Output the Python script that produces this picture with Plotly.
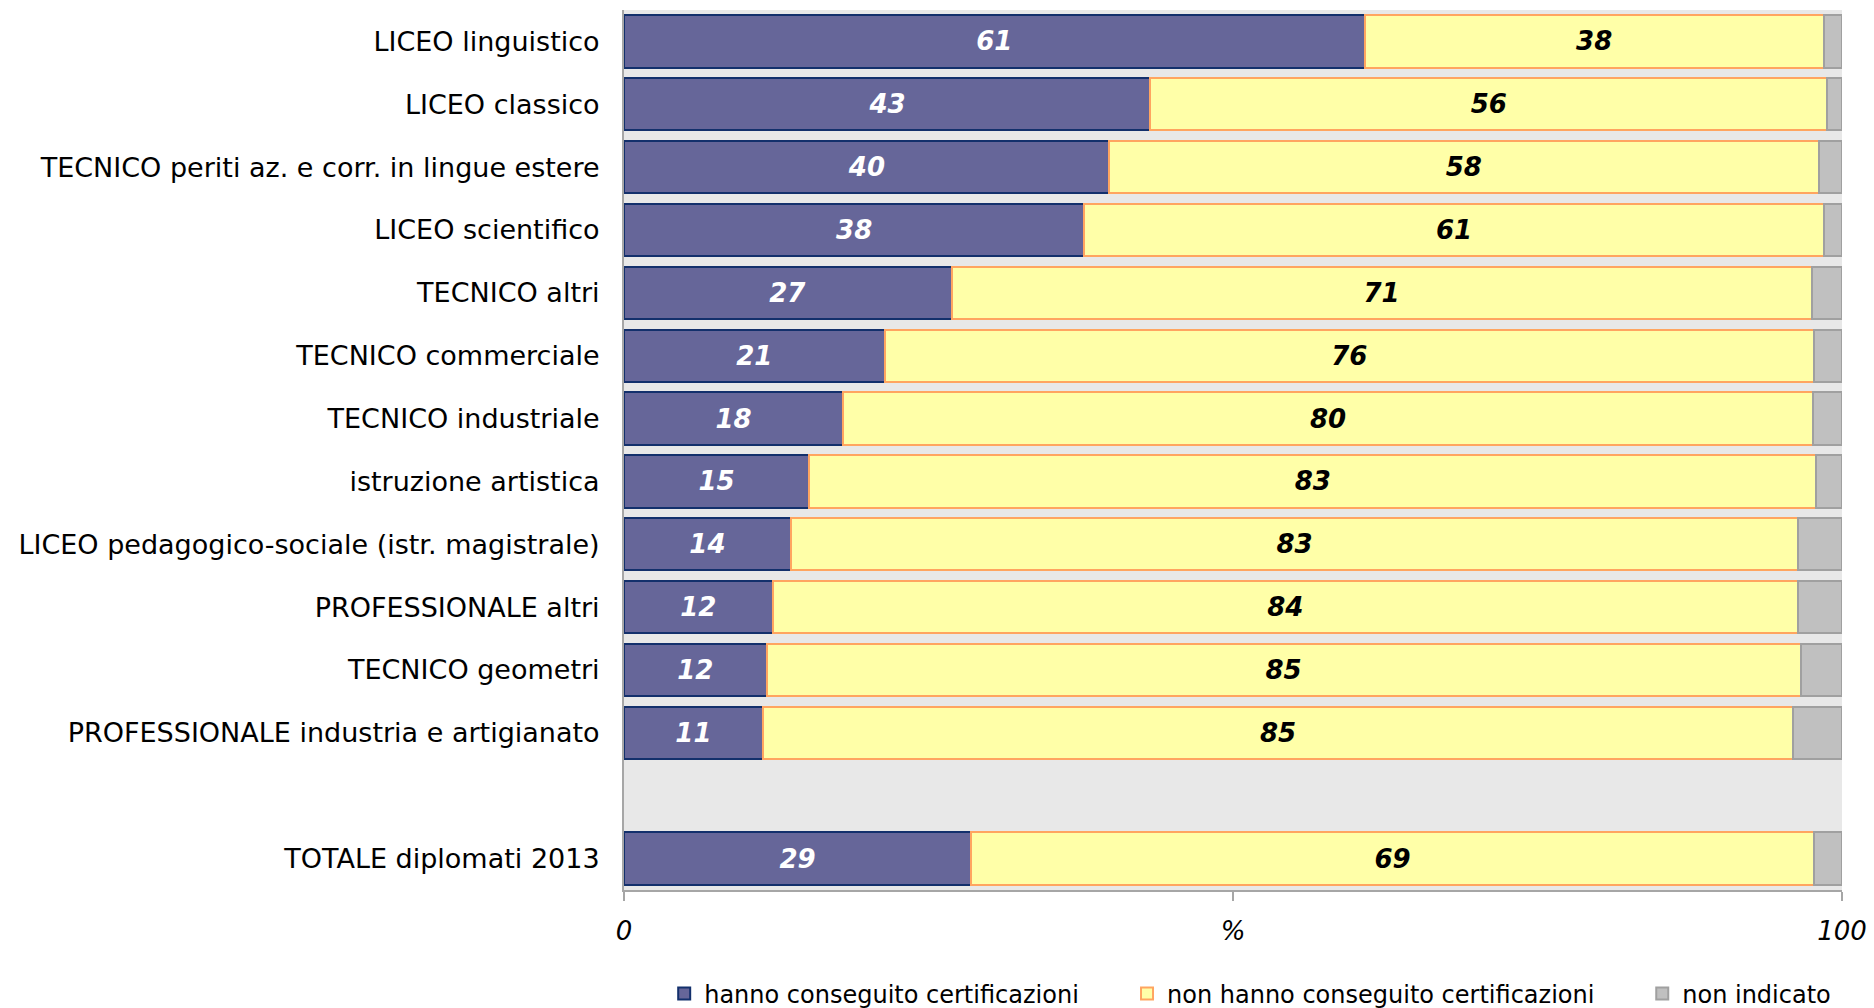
import plotly.graph_objects as go

categories = [
    "LICEO linguistico",
    "LICEO classico",
    "TECNICO periti az. e corr. in lingue estere",
    "LICEO scientifico",
    "TECNICO altri",
    "TECNICO commerciale",
    "TECNICO industriale",
    "istruzione artistica",
    "LICEO pedagogico-sociale (istr. magistrale)",
    "PROFESSIONALE altri",
    "TECNICO geometri",
    "PROFESSIONALE industria e artigianato",
    "TOTALE diplomati 2013",
]
hanno = [60.8, 43.2, 39.8, 37.8, 26.9, 21.4, 18.0, 15.2, 13.7, 12.2, 11.7, 11.4, 28.5]
non_hanno = [37.7, 55.6, 58.3, 60.7, 70.6, 76.3, 79.6, 82.7, 82.7, 84.2, 84.9, 84.6, 69.2]
non_indicato = [1.5, 1.2, 1.9, 1.5, 2.5, 2.3, 2.4, 2.1, 3.6, 3.6, 3.4, 4.0, 2.3]

series_names = ["hanno conseguito certificazioni", "non hanno conseguito certificazioni", "non indicato"]
tick_vals = [0, 50, 100]
tick_text = ["0", "%", "100"]

axis_order = categories[:12] + [" "] + categories[12:]

FONT = "DejaVu Sans"
AXIS_COL = "#a6a6a6"

fig = go.Figure()
fig.add_trace(go.Bar(
    y=categories, x=hanno, orientation="h", name=series_names[0],
    marker=dict(color="#666699", line=dict(color="#13306c", width=2)),
    texttemplate="%{x:.0f}", textposition="inside", insidetextanchor="middle",
    textangle=0, constraintext="none",
    textfont=dict(family=FONT, size=26, color="white", weight="bold", style="italic"),
    legend="legend", showlegend=True,
))
fig.add_trace(go.Bar(
    y=categories, x=non_hanno, orientation="h", name=series_names[1],
    marker=dict(color="#ffffa8", line=dict(color="#ffa560", width=2)),
    texttemplate="%{x:.0f}", textposition="inside", insidetextanchor="middle",
    textangle=0, constraintext="none",
    textfont=dict(family=FONT, size=26, color="black", weight="bold", style="italic"),
    legend="legend2", showlegend=True,
))
fig.add_trace(go.Bar(
    y=categories, x=non_indicato, orientation="h", name=series_names[2],
    marker=dict(color="#c0c0c0", line=dict(color="#a0a0a0", width=2)),
    textposition="none",
    legend="legend3", showlegend=True,
))

leg_common = dict(orientation="h", yanchor="middle", y=-0.118, xanchor="left",
                  font=dict(family=FONT, size=24, color="black"),
                  bgcolor="rgba(0,0,0,0)")

fig.update_layout(
    showlegend=True,
    barmode="stack",
    bargap=0.17,
    width=1874, height=1008,
    margin=dict(l=624, r=32, t=10, b=118, autoexpand=False),
    paper_bgcolor="white",
    plot_bgcolor="#e8e8e8",
    font=dict(family=FONT, color="black"),
    legend=dict(x=0.033, **leg_common),
    legend2=dict(x=0.413, **leg_common),
    legend3=dict(x=0.836, **leg_common),
    xaxis=dict(
        range=[0, 100], tickvals=tick_vals, ticktext=tick_text,
        ticks="outside", ticklen=9, tickwidth=2, tickcolor=AXIS_COL,
        showline=True, linecolor=AXIS_COL, linewidth=2,
        showgrid=False, zeroline=False, automargin=False,
        tickfont=dict(family=FONT, size=26, style="italic", color="black"),
        ticklabelstandoff=8,
    ),
    yaxis=dict(
        type="category", categoryorder="array", categoryarray=axis_order,
        range=[13.5, -0.5], automargin=False,
        showline=True, linecolor=AXIS_COL, linewidth=2,
        showgrid=False, zeroline=False, ticks="",
        tickfont=dict(family=FONT, size=27, color="black"),
        ticklabelstandoff=17,
    ),
)

fig.write_html(
    "out.html",
    config={"displayModeBar": False},
    post_script="document.body.style.margin='0px';document.body.style.overflow='hidden';",
)
